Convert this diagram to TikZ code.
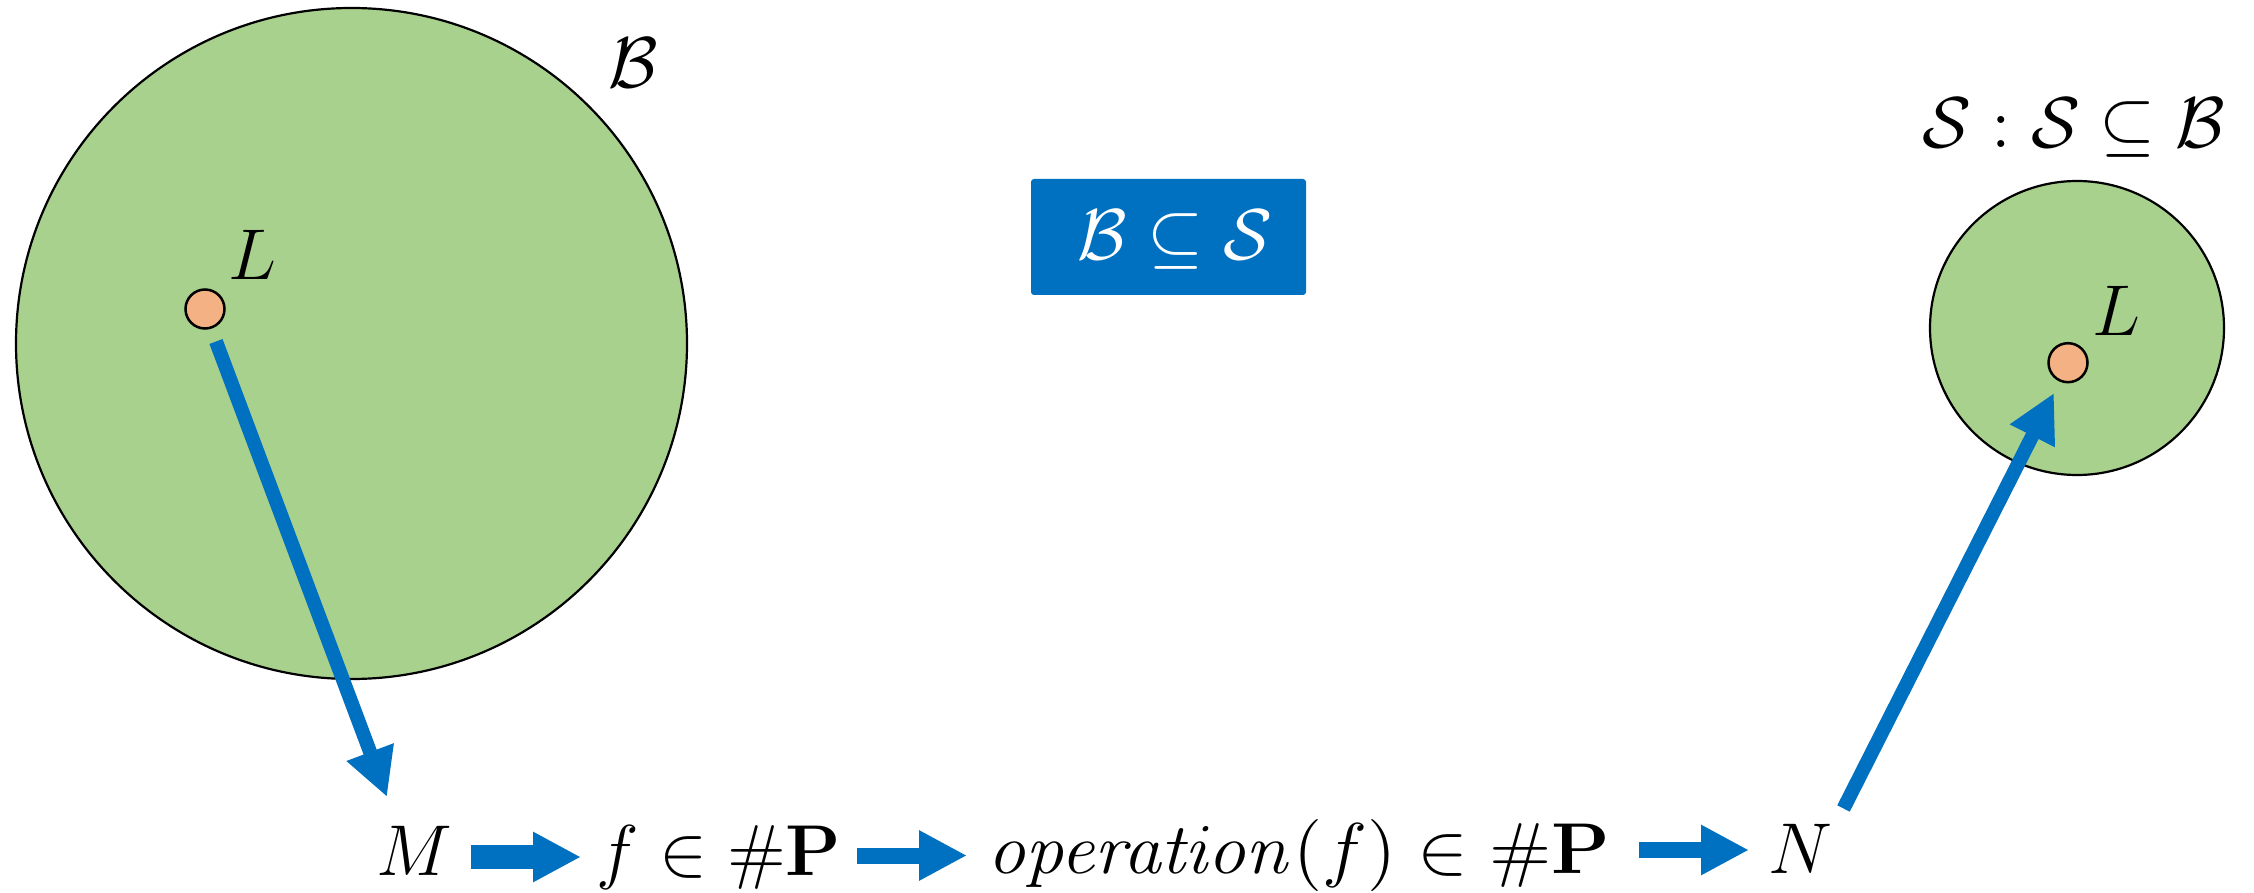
\documentclass[tikz,border=0pt]{standalone}
\usepackage{graphicx}
\usepackage{amsmath,amssymb}
\usetikzlibrary{arrows.meta}
\definecolor{setgreen}{HTML}{A9D18E}
\definecolor{dotorange}{HTML}{F4B183}
\definecolor{arrowblue}{HTML}{0070C0}
\newcommand{\Bigtxt}[1]{\scalebox{6}{\fontsize{12}{14}\selectfont #1}}
\newcommand{\Widetxt}[1]{\scalebox{6.35}[6]{\fontsize{12}{14}\selectfont #1}}
\tikzset{
  bigtext/.style={inner sep=0pt, anchor=base},
  setcircle/.style={circle, draw=black, line width=2.2pt, fill=setgreen, inner sep=0pt},
  langdot/.style={circle, draw=black, line width=2.5pt, fill=dotorange, minimum size=39pt, inner sep=0pt},
  longarrow/.style={draw=arrowblue, line width=14pt, -{Triangle[length=48pt,width=47pt]}},
  blockarrow/.style={draw=arrowblue, line width=16pt, -{Triangle[length=48pt,width=47pt]}},
  titlebox/.style={fill=arrowblue, rounded corners=3pt, minimum width=275pt, minimum height=116pt, inner sep=0pt}
}
\begin{document}
\begin{tikzpicture}[x=1pt,y=-1pt]
\useasboundingbox (0,0) rectangle (2254,893);
% big set B
\node[setcircle, minimum size=671pt] (bigB) at (351.5,343.5) {};
\node[bigtext] (labB) at (633,88) {\Bigtxt{$\mathcal{B}$}};
\node[langdot] (dotA) at (205,309) {};
\node[bigtext] (labLA) at (252.7,280) {\Bigtxt{$L$}};
% title box
\node[titlebox] (box) at (1168.5,237) {};
\node[bigtext, text=white] (boxtext) at (1175,260) {\Bigtxt{$\mathcal{B} \subseteq \mathcal{S}$}};
% small set S
\node[setcircle, minimum size=294pt] (smallS) at (2077,328) {};
\node[bigtext] (labS) at (2074,148) {\Bigtxt{$\mathcal{S} : \mathcal{S} \subseteq \mathcal{B}$}};
\node[langdot] (dotB) at (2068,362.7) {};
\node[bigtext] (labLB) at (2116.7,335) {\Bigtxt{$L$}};
% bottom row
\node[bigtext] (M) at (414,875) {\Bigtxt{$M$}};
\node[bigtext] (fP) at (719,875) {\Bigtxt{$f \in \#\mathbf{P}$}};
\node[bigtext] (opP) at (1299,873) {\Widetxt{$\mathit{operation}(f) \in \#\mathbf{P}$}};
\node[bigtext] (N) at (1800,873) {\Bigtxt{$N$}};
% connector end points
\coordinate (aAs) at (216,341.5);
\coordinate (aAe) at (387,797);
\coordinate (aBs) at (1843.5,808.5);
\coordinate (aBe) at (2054,393);
\coordinate (b1s) at (471,857);
\coordinate (b1e) at (581,857);
\coordinate (b2s) at (857,855.5);
\coordinate (b2e) at (967,855.5);
\coordinate (b3s) at (1639,850);
\coordinate (b3e) at (1749,850);
% connectors
\draw[longarrow] (aAs) -- (aAe);
\draw[longarrow] (aBs) -- (aBe);
\draw[blockarrow, line width=24pt] (b1s) -- (b1e);
\draw[blockarrow] (b2s) -- (b2e);
\draw[blockarrow] (b3s) -- (b3e);
\end{tikzpicture}
\end{document}
